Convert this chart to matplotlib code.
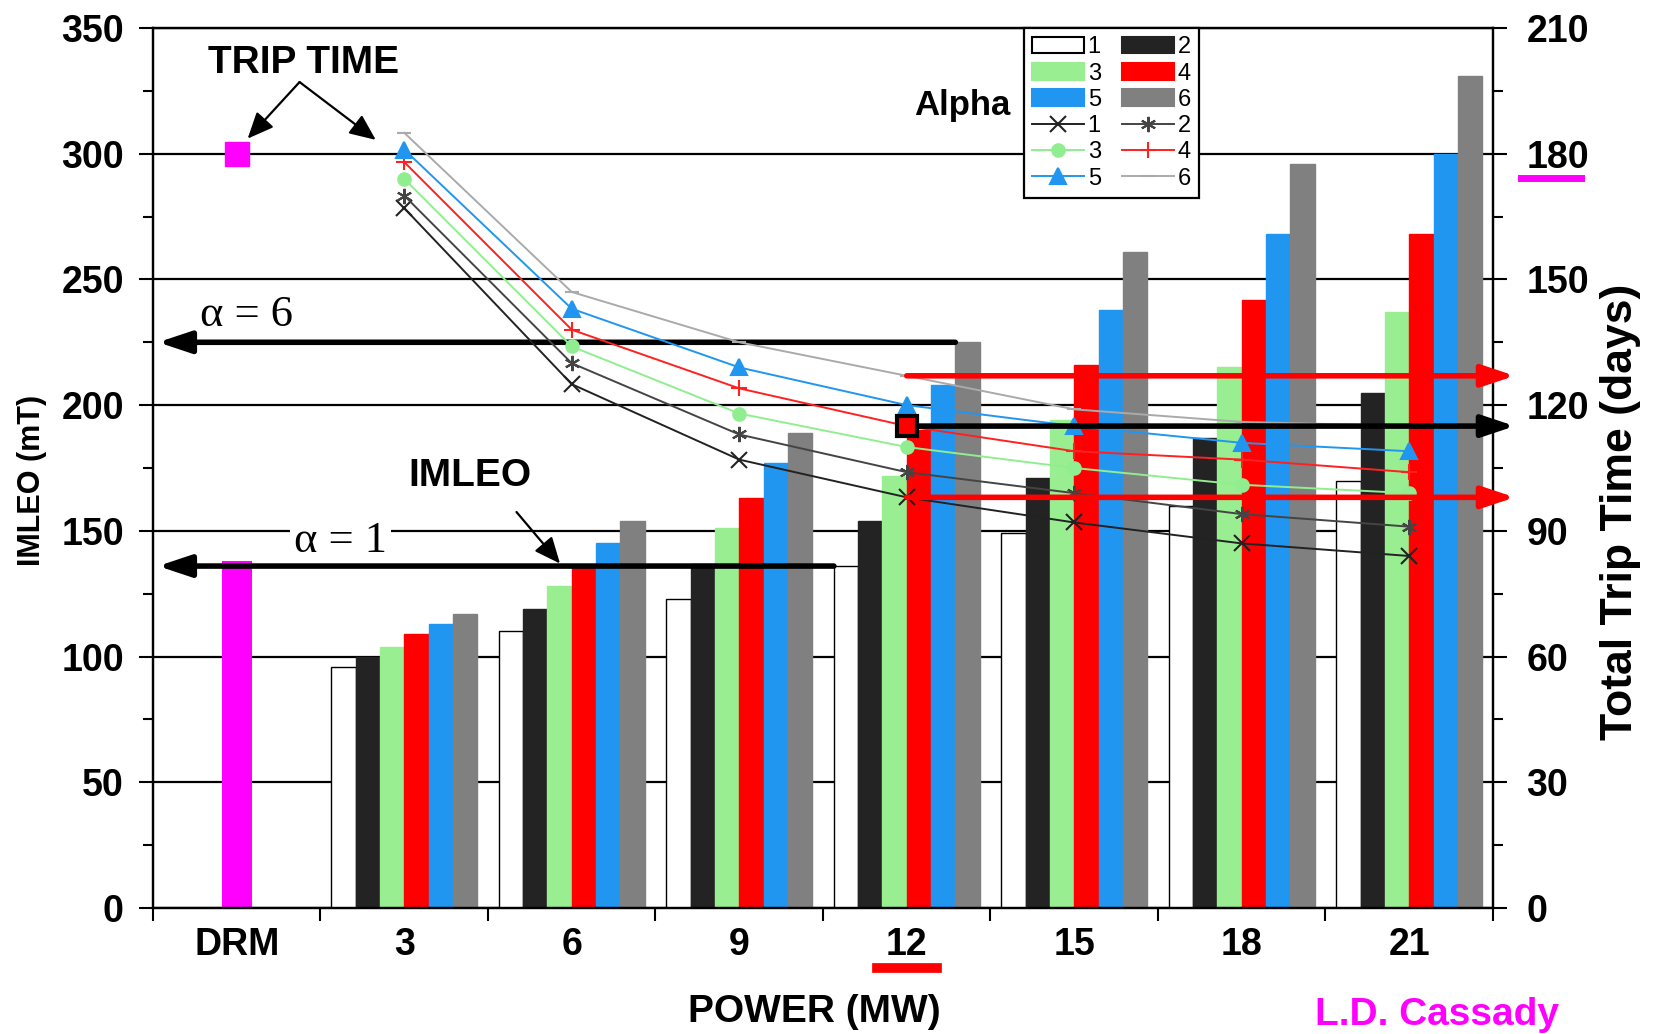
import numpy as np
import matplotlib
matplotlib.use('Agg')
import matplotlib.pyplot as plt
from matplotlib.lines import Line2D
from matplotlib.patches import Patch
import matplotlib.transforms as mtransforms

plt.rcParams['font.family'] = ['Liberation Sans', 'DejaVu Sans']
plt.rcParams['font.weight'] = 'bold'

# categories on the x axis
power_labels = ['DRM', '3', '6', '9', '12', '15', '18', '21']

# DRM reference point
drm_imleo = 138
drm_trip = 180

# IMLEO (mT) bars, alpha = 1..6, for 3..21 MW
imleo_a1 = [96, 110, 123, 136, 149, 160, 170]
imleo_a2 = [100, 119, 137, 154, 171, 187, 205]
imleo_a3 = [104, 128, 151, 172, 194, 215, 237]
imleo_a4 = [109, 136, 163, 190, 216, 242, 268]
imleo_a5 = [113, 145, 177, 208, 238, 268, 300]
imleo_a6 = [117, 154, 189, 225, 261, 296, 331]

# total trip time (days), alpha = 1..6
trip_a1 = [167, 125, 107, 98, 92, 87, 84]
trip_a2 = [170, 130, 113, 104, 99, 94, 91]
trip_a3 = [174, 134, 118, 110, 105, 101, 99]
trip_a4 = [178, 138, 124, 115, 109, 107, 104]
trip_a5 = [181, 143, 129, 120, 115, 111, 109]
trip_a6 = [185, 147, 135, 127, 119, 116, 115]

alpha_names = ['1', '2', '3', '4', '5', '6']
imleo = [imleo_a1, imleo_a2, imleo_a3, imleo_a4, imleo_a5, imleo_a6]
trip = [trip_a1, trip_a2, trip_a3, trip_a4, trip_a5, trip_a6]

bar_colors = ['white', '#232323', '#98ee90', '#ff0000', '#2196f0', '#808080']
line_colors = ['#222222', '#444444', '#90ee90', '#ff2020', '#2196f0', '#aaaaaa']
markers = ['x', (6, 2, 0), 'o', '+', '^', '_']
msizes = [11, 11, 9, 11, 11, 10]

fig = plt.figure(figsize=(16.56, 10.34), dpi=100)
ax = fig.add_axes([153/1656, 1-908/1034, 1340/1656, 880/1034])
ax2 = ax.twinx()

x = np.arange(1, len(power_labels))
w = 0.145
bars = []
for i in range(6):
    b = ax.bar(x + (i - 2.5)*w, imleo[i], w, color=bar_colors[i],
               edgecolor='black' if i == 0 else bar_colors[i], linewidth=1.0, zorder=2)
    bars.append(b)
ax.bar(0, drm_imleo, 0.18, color='#ff00ff', zorder=2)

lines = []
for i in range(6):
    l, = ax2.plot(x, trip[i], color=line_colors[i], lw=1.4, marker=markers[i],
                  ms=msizes[i], mew=1.5, zorder=3)
    lines.append(l)
ax2.plot(0, drm_trip, marker='s', ms=17, color='#ff00ff', ls='none')

# axes, ticks, grid
ax.set_xlim(-0.5, 7.5)
ax.set_ylim(0, 350)
ax2.set_ylim(0, 210)
ax.set_xticks(np.arange(-0.5, 8, 1))
ax.set_xticklabels([])
ax.set_xticks(np.arange(8), minor=True)
ax.set_xticklabels(power_labels, minor=True, fontsize=27)
ax.tick_params(axis='x', which='major', length=9, width=1.5, direction='out')
ax.tick_params(axis='x', which='minor', length=0, pad=14)
ax.set_yticks(np.arange(0, 351, 50))
ax.set_yticks(np.arange(0, 351, 25), minor=True)
ax.tick_params(axis='y', which='major', length=10, width=1.5, labelsize=27, pad=11)
ax.tick_params(axis='y', which='minor', length=7, width=1.5)
ax2.set_yticks(np.arange(0, 211, 30))
ax2.set_yticks(np.arange(0, 211, 15), minor=True)
ax2.tick_params(axis='y', which='major', length=10, width=1.5, labelsize=27, pad=14)
ax2.tick_params(axis='y', which='minor', length=7, width=1.5)
ax.yaxis.grid(True, color='black', lw=1.6)
ax.set_axisbelow(True)
for a in (ax, ax2):
    for s in a.spines.values():
        s.set_linewidth(1.6)

# labels
fig.text(32/1656, 1-480/1034, 'IMLEO (mT)', rotation=90, ha='center', va='center', fontsize=22)
fig.text(1621/1656, 1-512/1034, 'Total Trip Time (days)', rotation=90, ha='center', va='center', fontsize=32)
fig.text(814/1656, 1-1012/1034, 'POWER (MW)', ha='center', va='center', fontsize=28)
fig.text(1437/1656, 1-1015/1034, 'L.D. Cassady', ha='center', va='center', fontsize=28, color='#ff00ff')

# underlines under "12" and "180"
tr = mtransforms.blended_transform_factory(ax.transData, ax.transAxes)
ax.add_line(Line2D([4-0.18, 4+0.18], [-0.068, -0.068], transform=tr, color='red', lw=7, clip_on=False))
fig.add_artist(Line2D([1521/1656, 1581/1656], [1-178/1034]*2, transform=fig.transFigure, color='#ff00ff', lw=5))

# annotations
thin = dict(arrowstyle='-|>,head_length=0.8,head_width=0.35', lw=1.6, color='black',
            shrinkA=0, shrinkB=0, mutation_scale=20)
ax.text(0.40, 336, 'TRIP TIME', ha='center', va='center', fontsize=28)
ax.annotate('', xy=(0.065, 306), xytext=(0.375, 328.5), arrowprops=thin)
ax.annotate('', xy=(0.83, 305.5), xytext=(0.375, 328.5), arrowprops=thin)
ax.text(4.33, 319, 'Alpha', ha='center', va='center', fontsize=25)
ax.text(1.39, 172, 'IMLEO', ha='center', va='center', fontsize=28)
ax.annotate('', xy=(1.93, 137), xytext=(1.67, 157.5), arrowprops=thin)

serif = ['Liberation Serif', 'DejaVu Serif']
ax.text(0.06, 236, 'α = 6', family=serif, fontweight='normal', ha='center', va='center', fontsize=32)
ax.text(0.62, 146, 'α = 1', family=serif, fontweight='normal', ha='center', va='center', fontsize=32,
        bbox=dict(facecolor='white', edgecolor='none', pad=3))

big = dict(arrowstyle='-|>,head_length=0.9,head_width=0.3', lw=4, shrinkA=0, shrinkB=0, mutation_scale=22)
# IMLEO at 12 MW, alpha = 6 and alpha = 1
ax.annotate('', xy=(-0.47, imleo_a6[3]), xytext=(4 + 2*w, imleo_a6[3]),
            arrowprops=dict(color='black', **big), zorder=4)
ax.annotate('', xy=(-0.47, imleo_a1[3]), xytext=(4 - 3*w, imleo_a1[3]),
            arrowprops=dict(color='black', **big), zorder=4)
# trip time at 12 MW
for vals, col in [(trip_a6, 'red'), (trip_a4, 'black'), (trip_a1, 'red')]:
    ax2.annotate('', xy=(7.63, vals[3]), xytext=(4, vals[3]), annotation_clip=False,
                 arrowprops=dict(color=col, **big), zorder=4)
ax2.plot(4, trip_a4[3], marker='s', ms=15, color='red', mec='black', mew=3, zorder=5)

# legend
bh = [Patch(facecolor=bar_colors[i], edgecolor='black' if i == 0 else bar_colors[i], lw=1.5)
      for i in range(6)]
order = [0, 2, 4]
handles = [bh[i] for i in order] + [lines[i] for i in order] + \
          [bh[i+1] for i in order] + [lines[i+1] for i in order]
labels = [alpha_names[i] for i in order]*2 + [alpha_names[i+1] for i in order]*2
leg = ax2.legend(handles, labels, ncol=2, loc='upper left', bbox_to_anchor=(0.65, 1.0),
                 borderaxespad=0, fancybox=False, framealpha=1, edgecolor='black',
                 prop={'size': 17, 'weight': 'normal'}, handlelength=2.2, handletextpad=0.15,
                 columnspacing=0.9, labelspacing=0.18, borderpad=0.35)
leg.get_frame().set_linewidth(1.6)

fig.savefig('out.png', dpi=100)
